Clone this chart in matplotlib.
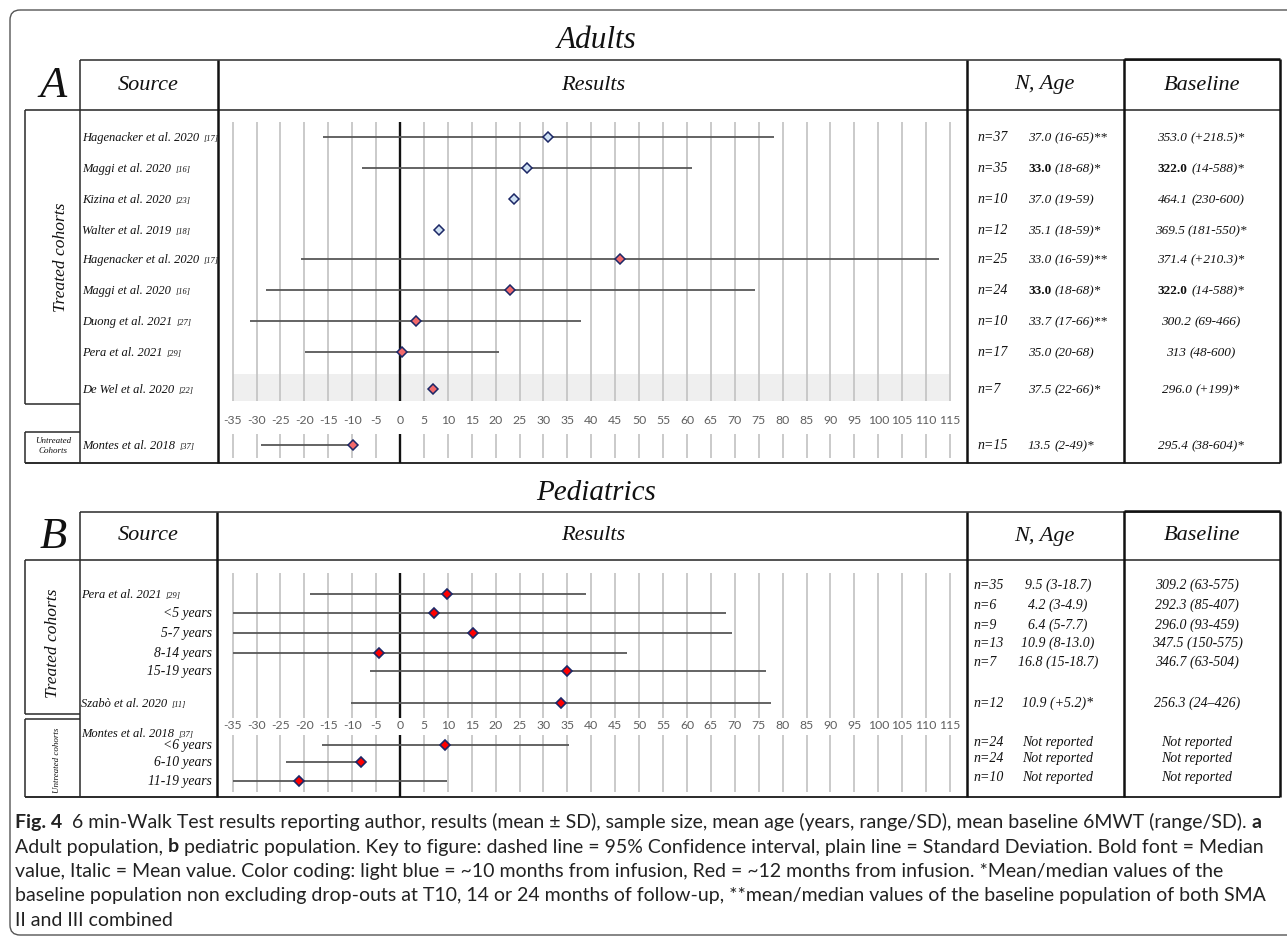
import numpy as np
import matplotlib
matplotlib.use("Agg")
import matplotlib.pyplot as plt
from matplotlib.patches import FancyBboxPatch, Rectangle

SERIF = "Liberation Serif"
SANS = "Lato"

# ---------------- data: adults (panel A) ----------------
src_a = ["Hagenacker et al. 2020", "Maggi et al. 2020", "Kizina et al. 2020", "Walter et al. 2019",
         "Hagenacker et al. 2020", "Maggi et al. 2020", "Duong et al. 2021", "Pera et al. 2021",
         "De Wel et al. 2020", "Montes et al. 2018"]
ref_a = ["[17]", "[16]", "[23]", "[18]", "[17]", "[16]", "[27]", "[29]", "[22]", "[37]"]
mean_a = [31.0, 26.5, 23.8, 8.2, 45.9, 23.0, 3.3, 0.4, 6.9, -9.9]
low_a = [-16.0, -8.0, np.nan, np.nan, -20.7, -28.1, -31.4, -19.9, np.nan, -29.1]
high_a = [78.2, 61.0, np.nan, np.nan, 112.6, 74.3, 37.8, 20.8, np.nan, -9.9]
months_a = [10, 10, 10, 10, 12, 12, 12, 12, 12, 12]
n_a = ["n=37", "n=35", "n=10", "n=12", "n=25", "n=24", "n=10", "n=17", "n=7", "n=15"]
age_val_a = ["37.0", "33.0", "37.0", "35.1", "33.0", "33.0", "33.7", "35.0", "37.5", "13.5"]
age_rng_a = ["(16-65)**", "(18-68)*", "(19-59)", "(18-59)*", "(16-59)**", "(18-68)*", "(17-66)**",
             "(20-68)", "(22-66)*", "(2-49)*"]
median_a = [False, True, False, False, False, True, False, False, False, False]
base_val_a = ["353.0", "322.0", "464.1", "369.5", "371.4", "322.0", "300.2", "313", "296.0", "295.4"]
base_rng_a = ["(+218.5)*", "(14-588)*", "(230-600)", "(181-550)*", "(+210.3)*", "(14-588)*",
              "(69-466)", "(48-600)", "(+199)*", "(38-604)*"]

# ---------------- data: pediatrics (panel B) ----------------
src_b = ["Pera et al. 2021", "<5 years", "5-7 years", "8-14 years", "15-19 years",
         "Szabò et al. 2020", "<6 years", "6-10 years", "11-19 years"]
ref_b = ["[29]", "", "", "", "", "[11]", "", "", ""]
mean_b = [9.8, 7.1, 15.3, -4.4, 35.0, 33.6, 9.4, -8.2, -21.1]
low_b = [-18.8, -35.0, -35.0, -35.0, -6.3, -10.3, -16.3, -23.8, -35.0]
high_b = [38.9, 68.2, 69.4, 47.5, 76.6, 77.6, 35.4, -8.2, 9.8]
n_b = ["n=35", "n=6", "n=9", "n=13", "n=7", "n=12", "n=24", "n=24", "n=10"]
age_b = ["9.5 (3-18.7)", "4.2 (3-4.9)", "6.4 (5-7.7)", "10.9 (8-13.0)", "16.8 (15-18.7)",
         "10.9 (+5.2)*", "Not reported", "Not reported", "Not reported"]
base_b = ["309.2 (63-575)", "292.3 (85-407)", "296.0 (93-459)", "347.5 (150-575)", "346.7 (63-504)",
          "256.3 (24–426)", "Not reported", "Not reported", "Not reported"]

ticks = list(range(-35, 120, 5))

caption = [
    [("Fig. 4", "bold"), ("  6 min-Walk Test results reporting author, results (mean ± SD), sample size, mean age "
                          "(years, range/SD), mean baseline 6MWT (range/SD). ", "normal"), ("a", "bold")],
    [("Adult population, ", "normal"), ("b", "bold"),
     (" pediatric population. Key to figure: dashed line = 95% Confidence interval, plain line = Standard "
      "Deviation. Bold font = Median", "normal")],
    [("value, Italic = Mean value. Color coding: light blue = ~10 months from infusion, Red = ~12 months from "
      "infusion. *Mean/median values of the", "normal")],
    [("baseline population non excluding drop-outs at T10, 14 or 24 months of follow-up, **mean/median values "
      "of the baseline population of both SMA", "normal")],
    [("II and III combined", "normal")],
]

# ---------------- layout (pixels) ----------------
W, H = 1287, 942
fig = plt.figure(figsize=(W / 100, H / 100), dpi=100)
ax = fig.add_axes([0, 0, 1, 1])
ax.set_xlim(0, W)
ax.set_ylim(H, 0)
ax.axis("off")
R = fig.canvas.get_renderer()

rows_a = [137, 168, 199, 230, 259, 290, 321, 352, 389, 445]
rows_b = [594, 613, 633, 653, 671, 703, 745, 762, 781]
cols_b = [585, 605, 625, 643, 662, 703, 742, 758, 777]

LINE = "#2a2a2a"
GRID = "#c6c6c6"
EDGE = "#1c2766"
COL = {10: "#cfe1f3", 12: "#f26a6c"}


def width(s, **kw):
    t = ax.text(0, 0, "|" + s + "|", **kw)
    w1 = t.get_window_extent(R).width
    t.set_text("||")
    w2 = t.get_window_extent(R).width
    t.remove()
    return w1 - w2


def runs(x, y, parts, ha="left", **kw):
    ws = [width(s, **{**kw, **p}) for s, p in parts]
    x0 = x - sum(ws) / 2 if ha == "center" else x
    for (s, p), w in zip(parts, ws):
        lead = len(s) - len(s.lstrip())
        off = width(" " * lead, **{**kw, **p}) if lead else 0
        if s.strip():
            ax.text(x0 + off, y, s.strip(), ha="left", va="baseline", **{**kw, **p})
        x0 += w


def hl(y, x0, x1, lw=1.1, c=LINE):
    ax.plot([x0, x1], [y, y], color=c, lw=lw, solid_capstyle="butt")


def vl(x, y0, y1, lw=1.1, c=LINE):
    ax.plot([x, x], [y0, y1], color=c, lw=lw, solid_capstyle="butt")


ser = dict(family=SERIF, style="italic", color="#111111")

# outer rounded frame
ax.add_patch(FancyBboxPatch((10, 10), 1300, 925, boxstyle="round,pad=0,rounding_size=10",
                            fc="none", ec="#555555", lw=1.0))


def table(top, hdr, bot, label, treated, untreated, left_src, res_r):
    hl(top, 80, 1280)
    hl(hdr, 25, 1280, lw=1.3, c="#444444")
    hl(bot, 25, 1280, lw=1.4)
    vl(80, top, bot)
    vl(left_src, top, bot, lw=1.8, c="#111111")
    vl(res_r, top, bot, lw=1.8, c="#111111")
    vl(1124, top - 1, bot, lw=1.8, c="#111111")
    vl(1280, top - 1, bot, lw=1.8, c="#111111")
    hl(top - 1, 1124, 1280, lw=1.8, c="#111111")
    vl(25, hdr, treated)
    hl(treated, 25, 80)
    vl(25, untreated, bot)
    hl(untreated, 25, 80)
    mid = (top + hdr) / 2
    ax.text(53, mid + 1, label, ha="center", va="center", fontsize=32, **ser)
    ax.text(148, mid, "Source", ha="center", va="center", fontsize=16, **ser)
    ax.text(593, mid, "Results", ha="center", va="center", fontsize=16, **ser)
    ax.text(1044, mid, "N, Age", ha="center", va="center", fontsize=16, **ser)
    ax.text(1202, mid, "Baseline", ha="center", va="center", fontsize=16, **ser)


def results(top, bot, grid_top, grid_bot, lab_y, low_top, low_bot):
    x0 = (218 - 400) / 4.7827
    x1 = (967 - 400) / 4.7827
    axr = fig.add_axes([218 / W, 1 - bot / H, (967 - 218) / W, (bot - top) / H])
    axr.set_xlim(x0, x1)
    axr.set_ylim(bot, top)
    axr.axis("off")
    gt = [t for t in ticks if t != 0]
    axr.vlines(gt, grid_top, grid_bot, color=GRID, lw=1.3)
    axr.vlines(gt, low_top, low_bot - 5, color=GRID, lw=1.3)
    axr.vlines([0], grid_top, grid_bot, color="#111111", lw=1.7)
    axr.vlines([0], low_top, low_bot, color="#111111", lw=1.7)
    for t in ticks:
        axr.text(t, lab_y, str(t), ha="center", va="center", fontsize=8.8, family=SANS, color="#5f5f5f")
    return axr


# ---------------- panel A ----------------
ax.text(597, 40, "Adults", ha="center", va="center", fontsize=22.5, **ser)
table(60, 110, 463, "A", 404, 432, 218, 967)
ax.text(61, 257, "Treated cohorts", rotation=90, ha="center", va="center", fontsize=12.5, **ser)
ax.text(53, 441, "Untreated", ha="center", va="center", fontsize=6.5, **ser)
ax.text(53, 451, "Cohorts", ha="center", va="center", fontsize=6.5, **ser)

axA = results(110, 463, 122, 401, 421, 434, 463)
axA.add_patch(Rectangle((-35, 374), 150, 27, fc="#efefef", ec="none", zorder=0))
for y, m, lo, hi, mo in zip(rows_a, mean_a, low_a, high_a, months_a):
    if not np.isnan(lo):
        axA.hlines(y, lo, hi, color="#575757", lw=1.3, zorder=2)
    axA.plot(m, y, "D", ms=5.5, mfc=COL[mo], mec=EDGE, mew=1.1, zorder=3)

for y, s, r in zip(rows_a, src_a, ref_a):
    runs(82, y + 4, [(s, dict(fontsize=9)), ("  " + r, dict(fontsize=6))], **ser)

for y, n, v, rg, med, bv, br in zip(rows_a, n_a, age_val_a, age_rng_a, median_a, base_val_a, base_rng_a):
    ax.text(978, y + 4, n, ha="left", va="baseline", fontsize=10, **ser)
    vst = dict(style="normal", weight="bold") if med else {}
    runs(1028, y + 4, [(v, vst), (" " + rg, {})], fontsize=9.5, **ser)
    runs(1201, y + 4, [(bv, vst), (" " + br, {})], ha="center", fontsize=9.5, **ser)

# ---------------- panel B ----------------
ax.text(596, 493, "Pediatrics", ha="center", va="center", fontsize=21, **ser)
table(512, 560, 797, "B", 714, 719, 217, 967)
ax.text(53, 643, "Treated cohorts", rotation=90, ha="center", va="center", fontsize=12.5, **ser)
ax.text(57, 760, "Untreated cohorts", rotation=90, ha="center", va="center", fontsize=6.5, **ser)

axB = results(560, 797, 573, 718, 725, 735, 797)
for y, m, lo, hi in zip(rows_b, mean_b, low_b, high_b):
    axB.hlines(y, lo, max(hi, m), color="#575757", lw=1.3, zorder=2)
    axB.plot(m, y, "D", ms=5.5, mfc="#ff0000", mec=EDGE, mew=1.2, zorder=3)

for y, s, r in zip(rows_b, src_b, ref_b):
    if r:
        runs(81, y + 4, [(s, dict(fontsize=9)), ("  " + r, dict(fontsize=6))], **ser)
    else:
        ax.text(212, y + 4, s, ha="right", va="baseline", fontsize=9.8, **ser)
runs(81, 737, [("Montes et al. 2018", dict(fontsize=9)), ("  [37]", dict(fontsize=6))], **ser)

for y, n, a, b in zip(cols_b, n_b, age_b, base_b):
    ax.text(973, y + 4, n, ha="left", va="baseline", fontsize=10, **ser)
    ax.text(1058, y + 4, a, ha="center", va="baseline", fontsize=10, **ser)
    ax.text(1197, y + 4, b, ha="center", va="baseline", fontsize=10, **ser)

# ---------------- caption ----------------
for i, line in enumerate(caption):
    runs(15, 828 + i * 24.5, [(s, dict(weight=w)) for s, w in line], family=SANS, fontsize=14,
         color="#222222")

fig.savefig("out.png", dpi=100)
